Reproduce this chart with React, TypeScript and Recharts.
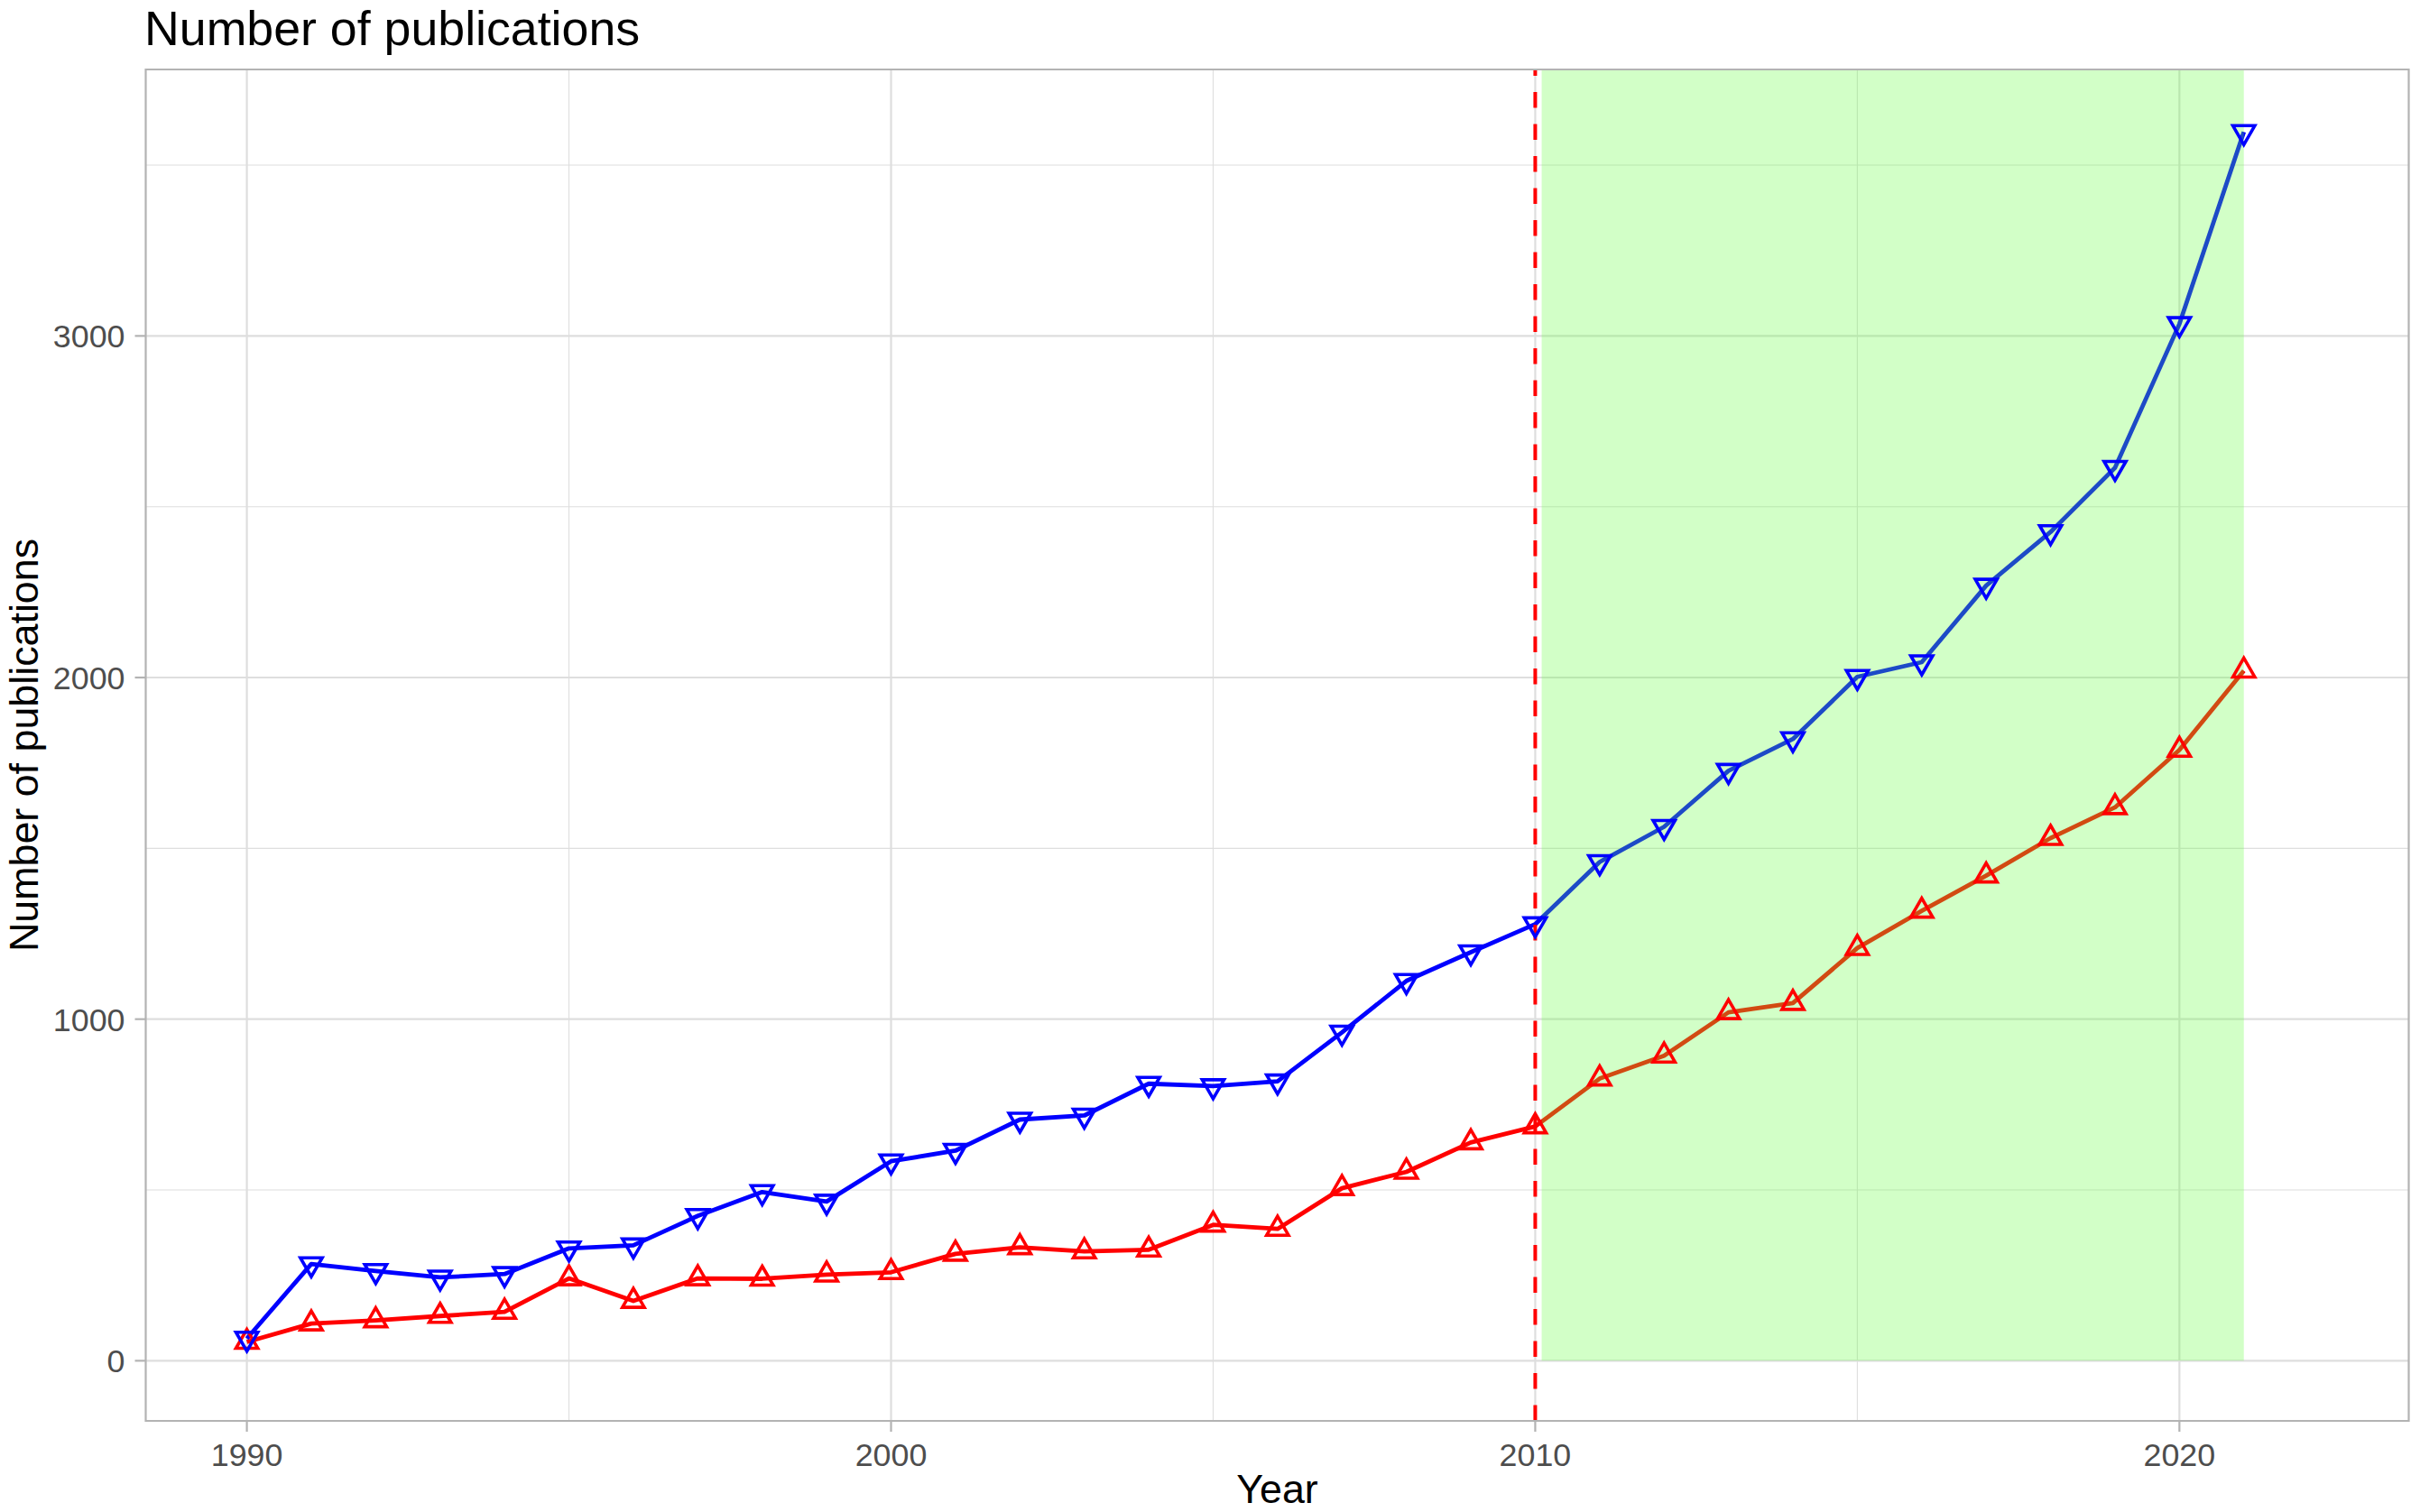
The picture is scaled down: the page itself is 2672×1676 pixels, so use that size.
import React from "react";
import {
  LineChart,
  Line,
  XAxis,
  YAxis,
  CartesianGrid,
  ReferenceArea,
  ReferenceLine,
} from "recharts";

// ---------- data ----------
const years = [
  1990, 1991, 1992, 1993, 1994, 1995, 1996, 1997, 1998, 1999, 2000, 2001, 2002,
  2003, 2004, 2005, 2006, 2007, 2008, 2009, 2010, 2011, 2012, 2013, 2014, 2015,
  2016, 2017, 2018, 2019, 2020, 2021,
];
const bluePublications = [
  65, 283, 263, 244, 254, 329, 338, 424, 494, 466, 584, 615, 706, 718, 811, 804,
  818, 961, 1112, 1196, 1278, 1460, 1563, 1727, 1820, 2002, 2045, 2269, 2426,
  2614, 3035, 3597,
];
const redPublications = [
  55, 109, 118, 131, 143, 241, 175, 241, 240, 252, 259, 313, 332, 320, 325, 398,
  386, 505, 553, 639, 686, 826, 893, 1020, 1047, 1208, 1317, 1420, 1530, 1620,
  1788, 2020,
];
const xTicks = [1990, 1995, 2000, 2005, 2010, 2015, 2020];
const xMajorTicks = [1990, 2000, 2010, 2020];
const yTicks = [0, 500, 1000, 1500, 2000, 2500, 3000, 3500];
const yMajorTicks = [0, 1000, 2000, 3000];
const cutoffYear = 2010;
const highlightStart = 2010.1;
const highlightEnd = 2021;
const highlightBottom = 0;

const chartTitle = "Number of publications";
const xTitle = "Year";
const yTitle = "Number of publications";

// ---------- layout ----------
const W = 2672;
const H = 1676;
const PLOT = { left: 161.5, right: 2669.5, top: 77, bottom: 1575 };
const X_DOMAIN: [number, number] = [1988.43, 2023.56];
const Y_DOMAIN: [number, number] = [-176, 3780];
const FONT = "'Liberation Sans', Arial, Helvetica, sans-serif";
const GRID = "#DEDEDE";
const BORDER = "#B3B3B3";
const TICK_TEXT = "#4D4D4D";

if (typeof document !== "undefined") {
  document.body.style.margin = "0";
}

const data = years.map((year, i) => ({
  year,
  blue: bluePublications[i],
  red: redPublications[i],
}));

const yValueAt = (py: number) =>
  Y_DOMAIN[0] +
  ((PLOT.bottom - py) / (PLOT.bottom - PLOT.top)) * (Y_DOMAIN[1] - Y_DOMAIN[0]);
const xValueAt = (px: number) =>
  X_DOMAIN[0] +
  ((px - PLOT.left) / (PLOT.right - PLOT.left)) * (X_DOMAIN[1] - X_DOMAIN[0]);

const isMajor = (v: number, majors: number[], tol: number) =>
  majors.some((m) => Math.abs(m - v) < tol);

const hLine = (p: any) => {
  const v = yValueAt(p.y1);
  const major = isMajor(v, yMajorTicks, 100);
  return (
    <line
      key={`h-${p.y1}`}
      x1={p.x1}
      y1={p.y1}
      x2={p.x2}
      y2={p.y2}
      stroke={GRID}
      strokeWidth={major ? 2.2 : 1.1}
    />
  );
};
const vLine = (p: any) => {
  const v = xValueAt(p.x1);
  const major = isMajor(v, xMajorTicks, 1);
  return (
    <line
      key={`v-${p.x1}`}
      x1={p.x1}
      y1={p.y1}
      x2={p.x2}
      y2={p.y2}
      stroke={GRID}
      strokeWidth={major ? 2.2 : 1.1}
    />
  );
};

const XTick = (p: any) => {
  const v = p.payload?.value;
  if (!xMajorTicks.includes(v)) return <g />;
  return (
    <g>
      <line
        x1={p.x}
        x2={p.x}
        y1={PLOT.bottom}
        y2={PLOT.bottom + 12}
        stroke={BORDER}
        strokeWidth={2.2}
      />
      <text
        x={p.x}
        y={1625}
        textAnchor="middle"
        fontFamily={FONT}
        fontSize={35.8}
        fill={TICK_TEXT}
      >
        {v}
      </text>
    </g>
  );
};

const YTick = (p: any) => {
  const v = p.payload?.value;
  if (!yMajorTicks.includes(v)) return <g />;
  return (
    <g>
      <line
        x1={PLOT.left - 12}
        x2={PLOT.left}
        y1={p.y}
        y2={p.y}
        stroke={BORDER}
        strokeWidth={2.2}
      />
      <text
        x={138.5}
        y={p.y}
        dy="0.36em"
        textAnchor="end"
        fontFamily={FONT}
        fontSize={35.8}
        fill={TICK_TEXT}
      >
        {v}
      </text>
    </g>
  );
};

const triangleDot = (dir: number, color: string) => (props: any) => {
  const { cx, cy, index } = props;
  if (cx == null || cy == null) return <g key={`n-${dir}-${index}`} />;
  const R = 14;
  const pts = `${cx},${cy - dir * R} ${cx + 0.866 * R},${cy + (dir * R) / 2} ${
    cx - 0.866 * R
  },${cy + (dir * R) / 2}`;
  return (
    <polygon
      key={`t-${dir}-${index}`}
      points={pts}
      fill="none"
      stroke={color}
      strokeWidth={3.6}
      strokeLinejoin="miter"
    />
  );
};

export default function App() {
  return (
    <div style={{ position: "relative", width: W, height: H, background: "#fff" }}>
      <LineChart
        width={W}
        height={H}
        data={data}
        margin={{ top: PLOT.top, right: W - PLOT.right, bottom: 0, left: 0 }}
      >
        <CartesianGrid horizontal={hLine} vertical={vLine} />
        <XAxis
          dataKey="year"
          type="number"
          domain={X_DOMAIN}
          ticks={xTicks}
          interval={0}
          allowDataOverflow
          height={H - PLOT.bottom}
          axisLine={false}
          tickLine={false}
          tick={XTick}
        />
        <YAxis
          type="number"
          domain={Y_DOMAIN}
          ticks={yTicks}
          interval={0}
          allowDataOverflow
          width={PLOT.left}
          axisLine={false}
          tickLine={false}
          tick={YTick}
        />
        <Line
          type="linear"
          dataKey="red"
          stroke="#FF0000"
          strokeWidth={4.8}
          strokeLinejoin="round"
          dot={triangleDot(1, "#FF0000")}
          activeDot={false}
          isAnimationActive={false}
        />
        <Line
          type="linear"
          dataKey="blue"
          stroke="#0000FF"
          strokeWidth={4.8}
          strokeLinejoin="round"
          dot={triangleDot(-1, "#0000FF")}
          activeDot={false}
          isAnimationActive={false}
        />
        <ReferenceArea
          x1={highlightStart}
          x2={highlightEnd}
          y1={highlightBottom}
          y2={Y_DOMAIN[1]}
          fill="#64FF3E"
          fillOpacity={0.29}
          stroke="none"
          ifOverflow="visible"
          zIndex={450}
        />
        <ReferenceLine
          x={cutoffYear}
          stroke="#FF0000"
          strokeWidth={4}
          strokeDasharray="17.5 18"
          ifOverflow="visible"
          zIndex={460}
        />
        <ReferenceArea
          x1={X_DOMAIN[0]}
          x2={X_DOMAIN[1]}
          y1={Y_DOMAIN[0]}
          y2={Y_DOMAIN[1]}
          fill="none"
          stroke={BORDER}
          strokeWidth={2.2}
          ifOverflow="visible"
          zIndex={470}
        />
      </LineChart>
      <svg
        width={W}
        height={H}
        style={{ position: "absolute", left: 0, top: 0, pointerEvents: "none" }}
      >
        <text x={160} y={49.5} fontFamily={FONT} fontSize={53.7} fill="#000">
          {chartTitle}
        </text>
        <text
          x={(PLOT.left + PLOT.right) / 2}
          y={1666}
          textAnchor="middle"
          fontFamily={FONT}
          fontSize={44.8}
          fill="#000"
        >
          {xTitle}
        </text>
        <text
          transform={`translate(42, ${(PLOT.top + PLOT.bottom) / 2}) rotate(-90)`}
          textAnchor="middle"
          fontFamily={FONT}
          fontSize={44.8}
          fill="#000"
        >
          {yTitle}
        </text>
      </svg>
    </div>
  );
}
